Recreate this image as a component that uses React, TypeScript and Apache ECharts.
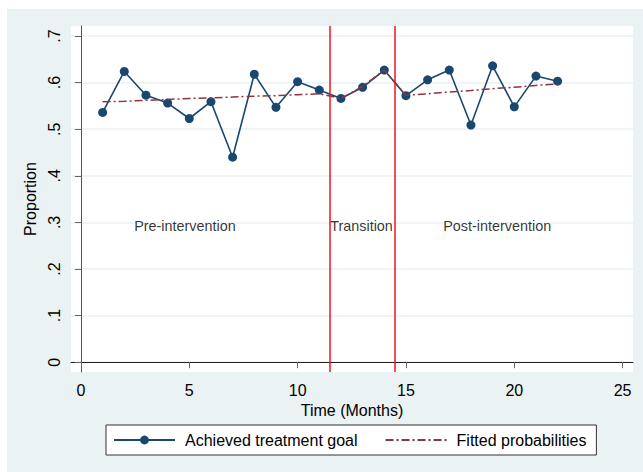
import React, { useEffect, useRef } from "react";
import * as echarts from "echarts";

const months = [1, 2, 3, 4, 5, 6, 7, 8, 9, 10, 11, 12, 13, 14, 15, 16, 17, 18, 19, 20, 21, 22];
const achieved = [0.536, 0.624, 0.573, 0.556, 0.523, 0.559, 0.44, 0.618, 0.547, 0.602, 0.584, 0.566, 0.59, 0.627, 0.572, 0.606, 0.627, 0.509, 0.636, 0.548, 0.614, 0.603];
const fitted = [0.559, 0.56, 0.562, 0.564, 0.566, 0.567, 0.569, 0.571, 0.572, 0.574, 0.576, 0.566, 0.592, 0.627, 0.573, 0.576, 0.58, 0.583, 0.587, 0.59, 0.594, 0.597];
const xTicks = [0, 5, 10, 15, 20, 25];
const yTicks = [0, 0.1, 0.2, 0.3, 0.4, 0.5, 0.6, 0.7];
const phaseBoundaries = [11.5, 14.5];
const phaseLabels = ["Pre-intervention", "Transition", "Post-intervention"];
const phaseLabelX = [4.8, 12.95, 19.21];
const phaseLabelY = [0.292, 0.292, 0.292];
const seriesNames = ["Achieved treatment goal", "Fitted probabilities"];

const FONT = "'Liberation Sans', Arial, Helvetica, sans-serif";
const BG = "#eaf2f3";
const NAVY = "#1a476f";
const MAROON = "#90353b";

export default function App() {
  const ref = useRef<HTMLDivElement>(null);
  useEffect(() => {
    if (!ref.current) return;
    const chart = echarts.init(ref.current, undefined, { renderer: "svg" });
    chart.setOption({
      animation: false,
      backgroundColor: BG,
      textStyle: { fontFamily: FONT, color: "#000" },
      graphic: [
        { type: "rect", shape: { x: 0, y: 0, width: 643, height: 9 }, style: { fill: "#fff" }, silent: true },
        { type: "rect", shape: { x: 0, y: 0, width: 7, height: 472 }, style: { fill: "#fff" }, silent: true },
      ],
      grid: {
        left: 71,
        top: 26,
        right: 10,
        bottom: 100,
        show: true,
        backgroundColor: "#fff",
        borderWidth: 0,
      },
      legend: {
        left: 106,
        top: 425,
        padding: [7, 10, 7, 7],
        itemWidth: 61,
        itemHeight: 11,
        itemGap: 27,
        backgroundColor: "#fff",
        borderColor: "#333",
        borderWidth: 1,
        borderRadius: 0,
        data: [
          { name: seriesNames[0] },
          { name: seriesNames[1], itemStyle: { color: "rgba(0,0,0,0)", opacity: 0, borderWidth: 0 } },
        ],
        textStyle: { fontSize: 16, fontFamily: FONT, color: "#000", padding: [0, 0, 0, 5] },
      },
      xAxis: {
        type: "value",
        min: -0.46,
        max: 25.48,
        name: "Time (Months)",
        nameLocation: "middle",
        nameGap: 27,
        nameTextStyle: { fontSize: 16, fontFamily: FONT, color: "#000" },
        axisLine: { show: true, lineStyle: { color: "#222", width: 1 } },
        axisTick: { show: true, length: 6, customValues: xTicks, lineStyle: { color: "#666", width: 1 } },
        axisLabel: { customValues: xTicks, fontSize: 16, margin: 10, color: "#000", fontFamily: FONT },
        splitLine: { show: false },
      },
      yAxis: {
        type: "value",
        min: -0.021,
        max: 0.7215,
        name: "Proportion",
        nameLocation: "middle",
        nameGap: 28,
        nameRotate: 90,
        nameTextStyle: { fontSize: 16, fontFamily: FONT, color: "#000" },
        axisLine: { show: true, lineStyle: { color: "#555", width: 1 } },
        axisTick: { show: true, length: 6, customValues: yTicks, lineStyle: { color: "#666", width: 1 } },
        axisLabel: {
          customValues: yTicks,
          rotate: 90,
          fontSize: 16,
          margin: 9,
          color: "#000",
          fontFamily: FONT,
          formatter: (v: number) => (v === 0 ? "0" : "." + Math.round(v * 10)),
        },
        splitLine: { show: true, lineStyle: { color: BG, width: 1.5 } },
      },
      series: [
        {
          name: "phases",
          type: "scatter",
          symbolSize: 0,
          silent: true,
          z: 1,
          data: phaseLabels.map((t, i) => ({ value: [phaseLabelX[i], phaseLabelY[i]], name: t })),
          label: {
            show: true,
            position: [0, 0],
            align: "center",
            verticalAlign: "middle",
            formatter: (p: any) => p.name,
            fontSize: 14.4,
            fontFamily: FONT,
            color: "#000",
          },
          markLine: {
            silent: true,
            symbol: ["none", "none"],
            label: { show: false },
            lineStyle: { color: "#f0131e", width: 1.5, type: "solid" },
            data: phaseBoundaries.map((x) => ({ xAxis: x })),
          },
        },
        {
          name: seriesNames[0],
          type: "line",
          data: months.map((m, i) => [m, achieved[i]]),
          symbol: "circle",
          symbolSize: 9,
          color: NAVY,
          itemStyle: { color: NAVY },
          lineStyle: { color: NAVY, width: 1.6 },
          z: 3,
        },
        {
          name: seriesNames[1],
          type: "line",
          data: months.map((m, i) => [m, fitted[i]]),
          symbol: "none",
          color: MAROON,
          lineStyle: { color: MAROON, width: 1.5, type: [8, 3, 2, 3] },
          z: 4,
        },
      ],
    });
    return () => chart.dispose();
  }, []);
  return <div ref={ref} style={{ position: "absolute", left: 0, top: 0, width: 643, height: 472 }} />;
}
